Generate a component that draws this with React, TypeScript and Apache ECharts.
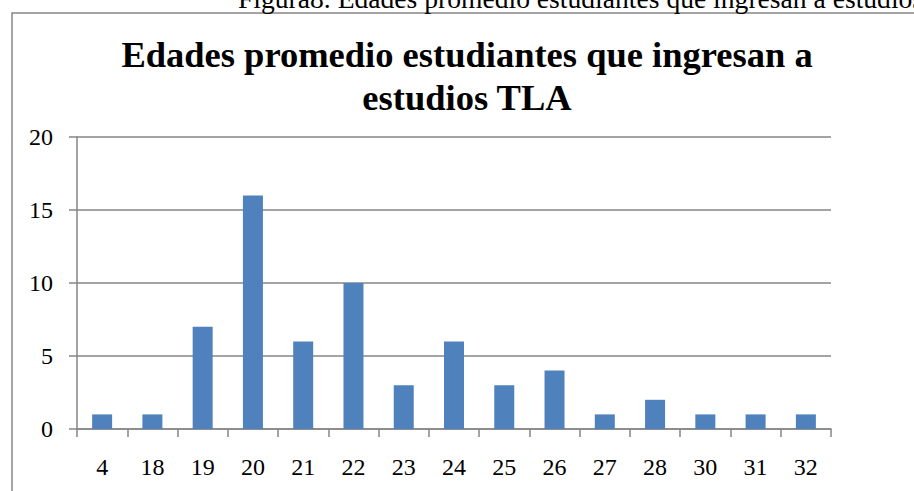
import React, { useEffect, useRef } from "react";
import * as echarts from "echarts";

const categories = ["4", "18", "19", "20", "21", "22", "23", "24", "25", "26", "27", "28", "30", "31", "32"];
const values = [1, 1, 7, 16, 6, 10, 3, 6, 3, 4, 1, 2, 1, 1, 1];
const yTicks = { min: 0, max: 20, interval: 5 };
const titleText = "Edades promedio estudiantes que ingresan a\nestudios TLA";
const captionText = "Figura8. Edades promedio estudiantes que ingresan a estudios TLA";

const FONT = "'Liberation Serif', 'Times New Roman', serif";
const GRAY = "#868686";

export default function App() {
  const ref = useRef<HTMLDivElement>(null);
  useEffect(() => {
    document.body.style.margin = "0";
    const chart = echarts.init(ref.current!, null, { renderer: "svg" });
    chart.setOption({
      animation: false,
      backgroundColor: "#ffffff",
      graphic: [
        {
          type: "rect",
          shape: { x: 12, y: 13, width: 1000, height: 600 },
          style: { fill: "none", stroke: GRAY, lineWidth: 1.5 },
          silent: true,
        },
        {
          type: "text",
          x: 238,
          y: -1.5,
          style: {
            text: captionText,
            font: `27.6px ${FONT}`,
            fill: "#000",
            verticalAlign: "middle",
            align: "left",
          },
        },
        {
          type: "text",
          x: 467,
          y: 33,
          style: {
            text: titleText,
            font: `bold 36.5px ${FONT}`,
            fill: "#000",
            align: "center",
            verticalAlign: "top",
            lineHeight: 43,
          },
        },
      ],
      grid: { left: 77, right: 83, top: 137, bottom: 62, containLabel: false },
      xAxis: {
        type: "category",
        data: categories,
        axisLine: { lineStyle: { color: GRAY, width: 1.5 } },
        axisTick: { show: true, length: 8, lineStyle: { color: GRAY, width: 1.5 } },
        axisLabel: { color: "#000", fontFamily: FONT, fontSize: 24, margin: 26 },
      },
      yAxis: {
        type: "value",
        min: yTicks.min,
        max: yTicks.max,
        interval: yTicks.interval,
        axisLine: { show: true, lineStyle: { color: GRAY, width: 1.5 } },
        axisTick: { show: true, length: 8, lineStyle: { color: GRAY, width: 1.5 } },
        splitLine: { show: true, lineStyle: { color: GRAY, width: 1.5 } },
        axisLabel: { color: "#000", fontFamily: FONT, fontSize: 24, margin: 24 },
      },
      series: [
        {
          type: "bar",
          data: values,
          barWidth: 20,
          itemStyle: { color: "#4f81bd" },
        },
      ],
    });
    return () => chart.dispose();
  }, []);
  return <div ref={ref} style={{ position: "fixed", left: 0, top: 0, width: 914, height: 491 }} />;
}
